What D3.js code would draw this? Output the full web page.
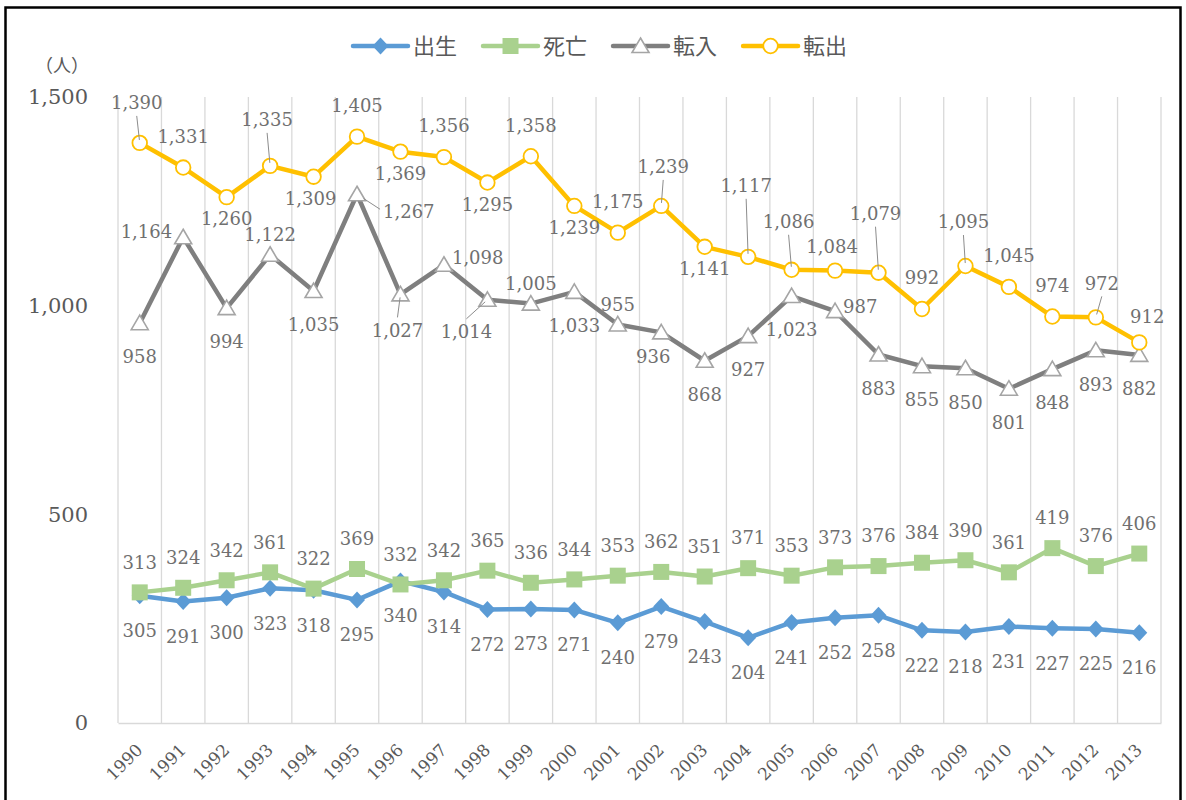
<!doctype html>
<html>
<head>
<meta charset="utf-8">
<script src="https://cdn.jsdelivr.net/npm/d3@7/dist/d3.min.js"></script>
<style>
  html, body { margin: 0; padding: 0; background: #fff; }
  svg { display: block; }
  .num { font-family: "DejaVu Serif", serif; }
  .jp { font-family: "Noto Sans CJK JP", sans-serif; }
</style>
</head>
<body>
<svg id="chart" width="1186" height="800"></svg>
<script>
  // values
  var years = ['1990', '1991', '1992', '1993', '1994', '1995', '1996', '1997', '1998', '1999', '2000', '2001',
    '2002', '2003', '2004', '2005', '2006', '2007', '2008', '2009', '2010', '2011', '2012', '2013'];
  var births = [305, 291, 300, 323, 318, 295, 340, 314, 272, 273, 271, 240, 279, 243, 204, 241, 252, 258, 222, 218, 231, 227, 225, 216];
  var deaths = [313, 324, 342, 361, 322, 369, 332, 342, 365, 336, 344, 353, 362, 351, 371, 353, 373, 376, 384, 390, 361, 419, 376, 406];
  var movedIn = [958, 1164, 994, 1122, 1035, 1267, 1027, 1098, 1014, 1005, 1033, 955, 936, 868, 927, 1023, 987, 883, 855, 850, 801, 848, 893, 882];
  var movedOut = [1390, 1331, 1260, 1335, 1309, 1405, 1369, 1356, 1295, 1358, 1239, 1175, 1239, 1141, 1117, 1086, 1084, 1079, 992, 1095, 1045, 974, 972, 912];
  var yTicks = [0, 500, 1000, 1500];

  // label placement: a = above, b = below, l = left, r = right; L = with leader line
  var outPlace = ['aL', 'a', 'b', 'aL', 'b', 'a', 'b', 'a', 'b', 'a', 'b', 'a',
    'aL', 'b', 'aL', 'aL', 'a', 'aL', 'a', 'aL', 'a', 'a', 'aL', 'a'];
  var inPlace = ['b', 'l', 'b', 'a', 'b', 'rL', 'bL', 'r', 'bL', 'a', 'b', 'a',
    'b', 'b', 'b', 'b', 'r', 'b', 'b', 'b', 'b', 'b', 'b', 'b'];
  // extra nudges for a few hand-moved labels [dx, dy]
  var outNudge = { 0: [-3, -9], 3: [-3, -15], 4: [-3, 0], 12: [2, -8], 14: [-2, -40], 15: [-3, -17],
    16: [-3, 7], 17: [-3, -28], 19: [-2, -13], 22: [6, -3], 23: [8, 5] };
  var inNudge = { 1: [0, -6], 5: [0, 17], 6: [-3, 2], 7: [0, -7], 8: [-21, -2], 12: [-8, -10], 16: [0, -4] };

  var series = [
    { name: '出生', values: births, color: '#5B9BD5', marker: 'diamond', place: null, def: 'b', up: 30, down: 35, nudge: {} },
    { name: '死亡', values: deaths, color: '#A9D18E', marker: 'square', place: null, def: 'a', up: 30, down: 35, nudge: {} },
    { name: '転入', values: movedIn, color: '#7F7F7F', marker: 'triangle', place: inPlace, def: 'b', up: 20, down: 34, nudge: inNudge },
    { name: '転出', values: movedOut, color: '#FFC000', marker: 'circle', place: outPlace, def: 'a', up: 31, down: 22, nudge: outNudge }
  ];

  var svg = d3.select('#chart');

  svg.append('rect')
    .attr('x', 5.5).attr('y', 7.5)
    .attr('width', 1175).attr('height', 820)
    .attr('fill', '#fff')
    .attr('stroke', '#000')
    .attr('stroke-width', 2.5);

  var x = d3.scaleBand().domain(years).range([118, 1161]);
  var y = d3.scaleLinear().domain([0, 1500]).range([723, 97]);
  var cx = function (i) { return x(years[i]) + x.bandwidth() / 2; };

  // vertical gridlines on category boundaries
  var bounds = years.map(function (d) { return x(d); }).concat([x.range()[1]]);
  svg.append('g').selectAll('line')
    .data(bounds)
    .enter().append('line')
    .attr('x1', function (d) { return d; })
    .attr('x2', function (d) { return d; })
    .attr('y1', y(1500)).attr('y2', y(0))
    .attr('stroke', '#d9d9d9')
    .attr('stroke-width', 1.3);

  // axes
  var yAxis = svg.append('g')
    .attr('transform', 'translate(118,0)')
    .call(d3.axisLeft(y).tickValues(yTicks).tickFormat(d3.format(',')).tickSize(0).tickPadding(30));
  yAxis.select('.domain').remove();
  yAxis.selectAll('text')
    .attr('class', 'num')
    .attr('font-size', 21)
    .attr('fill', '#595959');

  var xAxis = svg.append('g')
    .attr('transform', 'translate(0,723)')
    .call(d3.axisBottom(x).tickSize(0));
  xAxis.select('.domain').attr('stroke', '#d9d9d9').attr('stroke-width', 1.5);
  xAxis.selectAll('text')
    .attr('class', 'num')
    .attr('font-size', 17)
    .attr('fill', '#595959')
    .attr('x', 0).attr('y', 0).attr('dy', 0)
    .attr('text-anchor', 'end')
    .attr('transform', 'translate(4,28) rotate(-45)');

  svg.append('text')
    .attr('class', 'jp')
    .attr('x', 62).attr('y', 66).attr('dy', '0.35em')
    .attr('text-anchor', 'middle')
    .attr('font-size', 18)
    .attr('fill', '#595959')
    .text('（人）');

  function drawMarker(g, type, color) {
    if (type === 'diamond') {
      g.append('path').attr('d', 'M0,-8.5L8,0L0,8.5L-8,0Z').attr('fill', color);
    } else if (type === 'square') {
      g.append('rect').attr('x', -8).attr('y', -8).attr('width', 16).attr('height', 16).attr('fill', color);
    } else if (type === 'triangle') {
      g.append('path').attr('d', 'M0,-8L8.5,6.5L-8.5,6.5Z')
        .attr('fill', '#fff').attr('stroke', '#A5A5A5').attr('stroke-width', 1.6);
    } else {
      g.append('circle').attr('r', 7.3)
        .attr('fill', '#fff').attr('stroke', color).attr('stroke-width', 1.8);
    }
  }

  var line = d3.line()
    .x(function (d, i) { return cx(i); })
    .y(function (d) { return y(d); });

  series.forEach(function (s) {
    var g = svg.append('g');
    g.append('path')
      .attr('d', line(s.values))
      .attr('fill', 'none')
      .attr('stroke', s.color)
      .attr('stroke-width', 4.5)
      .attr('stroke-linejoin', 'round')
      .attr('stroke-linecap', 'round');
    s.values.forEach(function (v, i) {
      var m = g.append('g').attr('transform', 'translate(' + cx(i) + ',' + y(v) + ')');
      drawMarker(m, s.marker, s.color);
    });
  });

  // data labels
  var fmt = d3.format(',');
  var labels = svg.append('g');
  series.forEach(function (s) {
    s.values.forEach(function (v, i) {
      var px = cx(i), py = y(v);
      var code = s.place ? s.place[i] : s.def;
      var side = code.charAt(0);
      var t = labels.append('text')
        .attr('class', 'num')
        .attr('font-size', 18)
        .attr('fill', '#707070')
        .attr('dy', '0.35em')
        .text(fmt(v));
      var w = t.node().getComputedTextLength();
      var lx = px, ly = py;
      if (side === 'a') ly = py - s.up;
      else if (side === 'b') ly = py + s.down;
      else if (side === 'l') lx = px - 11 - w / 2;
      else if (side === 'r') lx = px + (code.indexOf('L') > 0 ? 26 : 8) + w / 2;
      var n = s.nudge[i];
      if (n) { lx += n[0]; ly += n[1]; }
      t.attr('x', lx).attr('y', ly).attr('text-anchor', 'middle');

      if (code.indexOf('L') > 0) {
        var sx, sy;
        if (side === 'r') { sx = lx - w / 2 - 3; sy = ly - 2; }
        else if (ly < py) { sx = lx; sy = ly + 13; }
        else { sx = lx; sy = ly - 13; }
        var dx = px - sx, dy = py - sy, len = Math.sqrt(dx * dx + dy * dy);
        var cut = side === 'r' ? 8 : 3;
        labels.append('line')
          .attr('x1', sx).attr('y1', sy)
          .attr('x2', px - dx / len * cut).attr('y2', py - dy / len * cut)
          .attr('stroke', '#8c8c8c')
          .attr('stroke-width', 1);
      }
    });
  });

  // legend
  var legend = svg.append('g').attr('transform', 'translate(0,46)');
  var lx0 = 353;
  series.forEach(function (s) {
    var item = legend.append('g').attr('transform', 'translate(' + lx0 + ',0)');
    item.append('line')
      .attr('x1', 0).attr('x2', 55)
      .attr('stroke', s.color)
      .attr('stroke-width', 4.5)
      .attr('stroke-linecap', 'round');
    drawMarker(item.append('g').attr('transform', 'translate(27.5,0)'), s.marker, s.color);
    var t = item.append('text')
      .attr('class', 'jp')
      .attr('x', 60).attr('dy', '0.35em')
      .attr('font-size', 22)
      .attr('fill', '#595959')
      .text(s.name);
    lx0 += 60 + t.node().getComputedTextLength() + 26;
  });
</script>
</body>
</html>
